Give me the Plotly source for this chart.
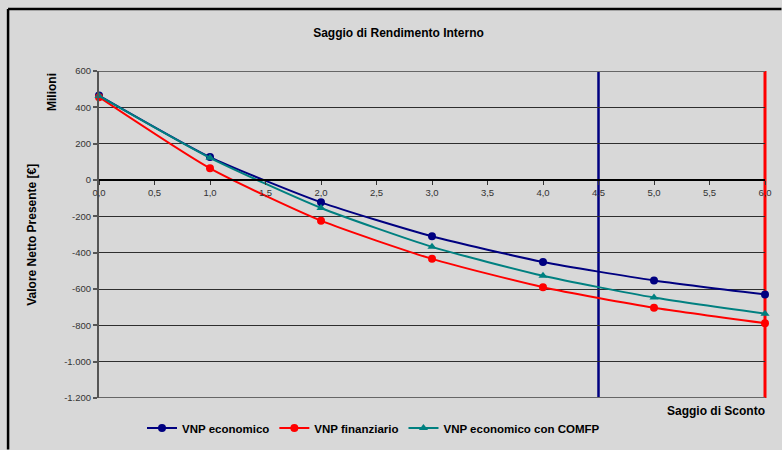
import plotly.graph_objects as go

# Discount rates (%) and net present values (millions of €)
saggi = [0, 1, 2, 3, 4, 5, 6]
vnp_economico = [465, 126, -123, -310, -451, -553, -630]
vnp_finanziario = [456, 64, -224, -434, -590, -703, -788]
vnp_economico_comfp = [463, 122, -154, -368, -527, -647, -736]

# Internal rates of return marked as vertical lines
sri_economico = 4.5
sri_finanziario = 6.0

x_tickvals = [0, 0.5, 1, 1.5, 2, 2.5, 3, 3.5, 4, 4.5, 5, 5.5, 6]
x_ticktext = ["0,0", "0,5", "1,0", "1,5", "2,0", "2,5", "3,0", "3,5", "4,0", "4,5", "5,0", "5,5", "6,0"]
y_tickvals = [600, 400, 200, 0, -200, -400, -600, -800, -1000, -1200]
y_ticktext = ["600", "400", "200", "0", "-200", "-400", "-600", "-800", "-1.000", "-1.200"]

BG = "#d8d8d8"
FONT = "Liberation Sans, Arial, sans-serif"
X_MIN, X_MAX = 0, 6
Y_MIN, Y_MAX = -1200, 600

fig = go.Figure()

series = [
    ("VNP economico", vnp_economico, "#000080", "circle"),
    ("VNP finanziario", vnp_finanziario, "#ff0000", "circle"),
    ("VNP economico con COMFP", vnp_economico_comfp, "#008080", "triangle-up"),
]
for name, vals, col, sym in series:
    fig.add_trace(go.Scatter(
        x=saggi, y=vals, name=name, mode="lines+markers",
        line=dict(color=col, width=2, shape="spline", smoothing=0.6),
        marker=dict(color=col, size=8, symbol=sym),
        cliponaxis=False,
    ))

L, R, T, B = 99, 16.5, 71, 51.5
W, H = 782, 450
pw, ph = W - L - R, H - T - B

def px_to_paper_x(px):
    return (px - L) / pw

def px_to_paper_y(py):
    return 1 - (py - T) / ph

fig.update_layout(
    template="none",
    width=W, height=H,
    margin=dict(l=L, r=R, t=T, b=B, pad=0, autoexpand=False),
    paper_bgcolor=BG, plot_bgcolor=BG,
    font=dict(family=FONT, size=9.5, color="#222"),
    title=dict(text="Saggio di Rendimento Interno", x=398.5 / W, xanchor="center",
               xref="container", y=1 - 33 / H, yref="container", yanchor="middle",
               font=dict(size=12, color="#000", family=FONT, weight="bold")),
    xaxis=dict(range=[X_MIN, X_MAX], tickvals=x_tickvals, ticktext=x_ticktext, automargin=False,
               showgrid=False, zeroline=False, showline=True, linecolor="#000", linewidth=1.5,
               ticks="outside", ticklen=4, tickcolor="#333", tickwidth=1,
               anchor="free", position=(0 - Y_MIN) / (Y_MAX - Y_MIN),
               tickfont=dict(size=9.5, color="#333", family=FONT)),
    yaxis=dict(range=[Y_MIN, Y_MAX], tickvals=y_tickvals, ticktext=y_ticktext, automargin=False,
               showgrid=True, gridcolor="#2e2e2e", gridwidth=1.2, zeroline=False,
               showline=True, linecolor="#555", linewidth=2,
               ticks="outside", ticklen=4, tickcolor="#555", tickwidth=1.5,
               tickfont=dict(size=9.5, color="#333", family=FONT)),
    showlegend=True,
    legend=dict(orientation="h", xref="container", yref="container",
                x=373.5 / W, xanchor="center", y=1 - 428 / H, yanchor="middle",
                bgcolor="rgba(0,0,0,0)", itemwidth=30, tracegroupgap=0,
                font=dict(size=11.5, color="#000", family=FONT, weight="bold")),
)

# IRR vertical markers, between the grid and the data series (unclipped at the plot edge)
for sri, col, w in [(sri_economico, "#000080", 2.5), (sri_finanziario, "#ff0000", 3)]:
    xf = (sri - X_MIN) / (X_MAX - X_MIN)
    fig.add_shape(type="line", xref="paper", yref="paper", x0=xf, x1=xf, y0=0, y1=1,
                  line=dict(color=col, width=w), layer="between")

# Plot-area frame lines at top and bottom
fig.add_shape(type="line", xref="x", yref="y", x0=X_MIN, x1=X_MAX, y0=Y_MAX, y1=Y_MAX,
              line=dict(color="#666", width=2), layer="below")
fig.add_shape(type="line", xref="x", yref="y", x0=X_MIN, x1=X_MAX, y0=Y_MIN, y1=Y_MIN,
              line=dict(color="#666", width=2), layer="below")

# Outer chart border: only its left and top sides fall inside the canvas
border = dict(color="#000", width=2.5)
fig.add_shape(type="line", xref="paper", yref="paper",
              x0=px_to_paper_x(8), x1=px_to_paper_x(8),
              y0=px_to_paper_y(H), y1=px_to_paper_y(9), line=border, layer="below")
fig.add_shape(type="line", xref="paper", yref="paper",
              x0=px_to_paper_x(8), x1=px_to_paper_x(W),
              y0=px_to_paper_y(9), y1=px_to_paper_y(9), line=border, layer="below")

# Axis titles
label_font = dict(size=12, color="#000", family=FONT, weight="bold")
fig.add_annotation(text="Valore Netto Presente [€]", xref="paper", yref="paper",
                   x=px_to_paper_x(32), y=px_to_paper_y(235), textangle=-90, showarrow=False,
                   font=label_font, xanchor="center", yanchor="middle")
fig.add_annotation(text="Milioni", xref="paper", yref="paper",
                   x=px_to_paper_x(52), y=px_to_paper_y(92), textangle=-90, showarrow=False,
                   font=label_font, xanchor="center", yanchor="middle")
fig.add_annotation(text="Saggio di Sconto", xref="paper", yref="paper",
                   x=px_to_paper_x(768), y=px_to_paper_y(411.5), showarrow=False,
                   font=label_font, xanchor="right", yanchor="middle")

fig.write_html("out.html", config={"displayModeBar": False})
